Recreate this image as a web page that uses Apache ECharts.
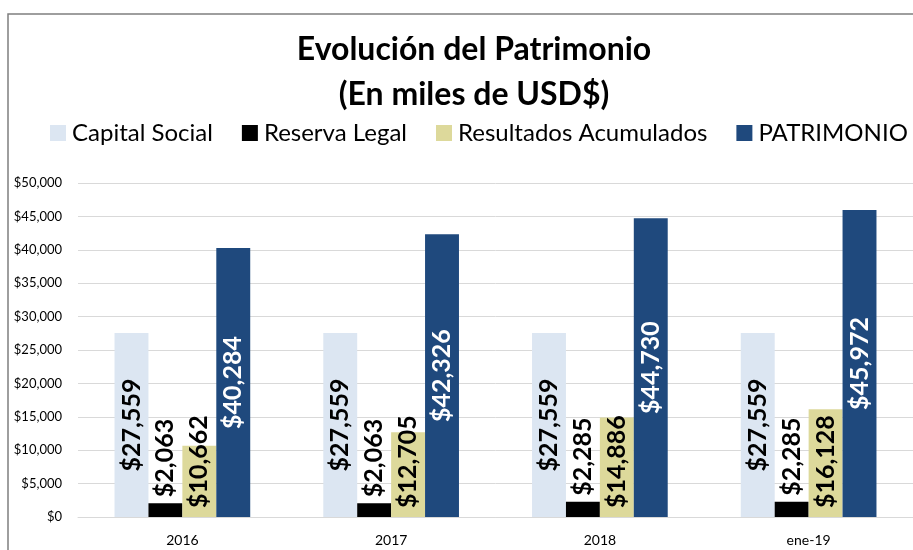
<!DOCTYPE html>
<html>
<head>
<meta charset="utf-8">
<script src="https://cdn.jsdelivr.net/npm/echarts@6/dist/echarts.min.js"></script>
<style>
  html, body { margin: 0; padding: 0; background: #fff; }
  #chart { width: 913px; height: 550px; }
</style>
</head>
<body>
<div id="chart"></div>
<script>
// Patrimonio por componente, en miles de USD$
const categories = ['2016', '2017', '2018', 'ene-19'];
const capitalSocial = [27559, 27559, 27559, 27559];
const reservaLegal = [2063, 2063, 2285, 2285];
const resultadosAcumulados = [10662, 12705, 14886, 16128];
const patrimonio = [40284, 42326, 44730, 45972];
const seriesNames = ['Capital Social', 'Reserva Legal', 'Resultados Acumulados', 'PATRIMONIO'];

const FONT = 'Lato';
const money = v => '$' + Number(v).toLocaleString('en-US');

const chart = echarts.init(document.getElementById('chart'));

function labelCfg(position, color, distance, align) {
  return {
    show: true,
    position: position,
    rotate: 90,
    align: align,
    verticalAlign: 'middle',
    distance: distance,
    color: color,
    fontFamily: FONT,
    fontWeight: 'bold',
    fontSize: 25,
    formatter: p => money(p.value)
  };
}

chart.setOption({
  animation: false,
  backgroundColor: '#ffffff',
  title: {
    text: 'Evolución del Patrimonio\n(En miles de USD$)',
    left: 469,
    top: 22,
    textAlign: 'center',
    textStyle: {
      fontFamily: FONT,
      fontWeight: 'bold',
      fontSize: 32,
      lineHeight: 45,
      color: '#000'
    }
  },
  legend: {
    data: seriesNames,
    top: 121,
    left: 50,
    width: 900,
    padding: 0,
    icon: 'rect',
    itemWidth: 16,
    itemHeight: 16,
    itemGap: 29,
    textStyle: { fontFamily: FONT, fontSize: 24, color: '#000', padding: [0, 0, 0, 1] }
  },
  grid: { left: 78, top: 183, width: 841, height: 334 },
  xAxis: {
    type: 'category',
    data: categories,
    axisLine: { show: true, lineStyle: { color: '#D9D9D9' } },
    axisTick: { show: false },
    axisLabel: { fontFamily: FONT, fontSize: 14, color: '#000', margin: 16 }
  },
  yAxis: {
    type: 'value',
    min: 0,
    max: 50000,
    interval: 5000,
    axisLine: { show: false },
    axisTick: { show: false },
    splitLine: { lineStyle: { color: '#D9D9D9', width: 1 } },
    axisLabel: {
      fontFamily: FONT,
      fontSize: 13,
      color: '#000',
      margin: 16,
      formatter: v => money(v)
    }
  },
  series: [
    {
      name: seriesNames[0], type: 'bar', data: capitalSocial,
      barGap: '0%', barCategoryGap: '35%',
      itemStyle: { color: '#DCE6F2' },
      label: labelCfg('inside', '#000', 0, 'center')
    },
    {
      name: seriesNames[1], type: 'bar', data: reservaLegal,
      itemStyle: { color: '#000000' },
      label: labelCfg('top', '#000', 6, 'left')
    },
    {
      name: seriesNames[2], type: 'bar', data: resultadosAcumulados,
      itemStyle: { color: '#DDD99B' },
      label: labelCfg('insideBottom', '#000', 9, 'left')
    },
    {
      name: seriesNames[3], type: 'bar', data: patrimonio,
      itemStyle: { color: '#1F497D' },
      label: labelCfg('inside', '#fff', 0, 'center')
    }
  ],
  graphic: [
    {
      type: 'rect',
      silent: true,
      shape: { x: 8, y: 14, width: 920, height: 560 },
      style: { fill: 'none', stroke: '#7F7F7F', lineWidth: 1.5 }
    }
  ]
});
</script>
</body>
</html>
